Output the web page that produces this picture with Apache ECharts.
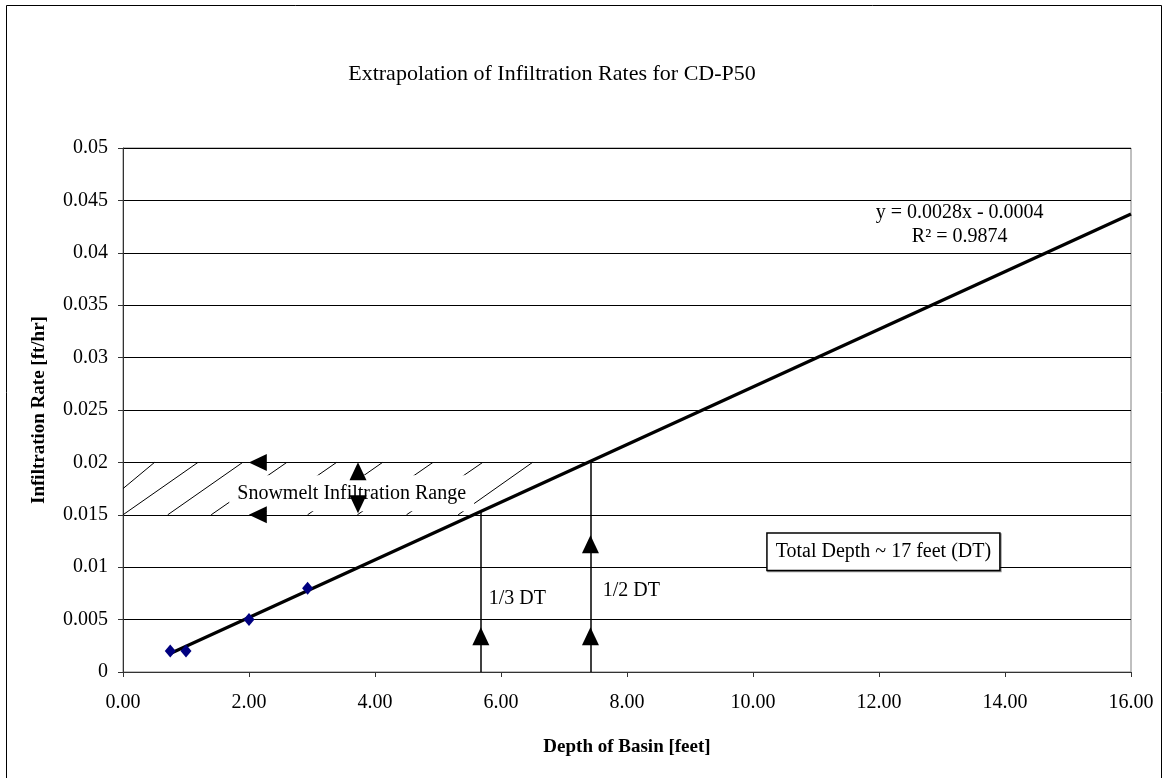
<!DOCTYPE html>
<html>
<head>
<meta charset="utf-8">
<script src="https://cdn.jsdelivr.net/npm/echarts@6/dist/echarts.min.js"></script>
<style>
html,body{margin:0;padding:0;background:#fff;}
#chart{width:1168px;height:778px;}
</style>
</head>
<body>
<div id="chart"></div>
<script>
// ---- data ----
const xTickLabels = ['0.00','2.00','4.00','6.00','8.00','10.00','12.00','14.00','16.00'];
const yTickLabels = ['0','0.005','0.01','0.015','0.02','0.025','0.03','0.035','0.04','0.045','0.05'];

const depthFeet = [0.75, 1.0, 2.0, 2.93];
const infiltrationRate = [0.002, 0.002, 0.005, 0.008];

const trendX = [0.75, 16];
const trendY = [0.00176, 0.0437];

const dtLineX = [5.68, 7.42];
const dtLineTop = [0.0154, 0.02];

const hatchStartX = [0, 0, 0.71, 1.40, 2.19, 2.93, 3.72, 4.50, 5.32];
const hatchStartY = [0.0175, 0.015, 0.015, 0.015, 0.015, 0.015, 0.015, 0.015, 0.015];
const hatchEndX = [0.50, 1.19, 1.90, 2.60, 3.39, 4.12, 4.92, 5.71, 6.50];
const hatchEndY = [0.02, 0.02, 0.02, 0.02, 0.02, 0.02, 0.02, 0.02, 0.02];

const arrowX = [2.14, 2.14, 3.73, 3.73, 5.68, 7.42, 7.42];
const arrowY = [0.02, 0.015, 0.01915, 0.0160, 0.0034, 0.0034, 0.0122];
const arrowRotate = [90, 90, 0, 180, 0, 0, 0];

const noteText = ['y = 0.0028x - 0.0004', 'R\u00b2 = 0.9874', '1/3 DT', '1/2 DT'];
const noteX = [13.28, 13.28, 6.26, 8.07];
const noteY = [0.04386, 0.04157, 0.00703, 0.0078];

const snowText = 'Snowmelt Infiltration Range';
const snowX = 3.63, snowY = 0.01705;
const totalText = 'Total Depth ~ 17 feet (DT)';
const totalX = 12.07, totalY = 0.01147;

const titleText = 'Extrapolation of Infiltration Rates for CD-P50';
const xName = 'Depth of Basin [feet]';
const yName = 'Infiltration Rate [ft/hr]';

// ---- chart ----
const FONT = '"Liberation Serif","Times New Roman",serif';
const chart = echarts.init(document.getElementById('chart'), null, {renderer:'canvas'});

const option = {
  animation: false,
  backgroundColor: '#fff',
  graphic: [
    {type:'rect', silent:true, z:-10, shape:{x:6.5, y:5.5, width:1155, height:800},
     style:{fill:'none', stroke:'#000', lineWidth:1}},
    {type:'text', silent:true, x:552, y:74,
     style:{text:titleText, font:'22px '+FONT, fill:'#000', textAlign:'center', textVerticalAlign:'middle'}}
  ],
  grid: {left:123, right:37, top:148, bottom:106, show:true, borderColor:'#808080', borderWidth:1, backgroundColor:'transparent'},
  xAxis: {
    type:'value', min:0, max:16, interval:2,
    name:xName, nameLocation:'middle', nameGap:66,
    nameTextStyle:{fontFamily:FONT, fontSize:19, fontWeight:'bold', color:'#000'},
    axisLine:{show:true, onZero:false, lineStyle:{color:'#333', width:1}},
    axisTick:{show:true, inside:false, length:5, lineStyle:{color:'#333'}},
    axisLabel:{margin:21, fontFamily:FONT, fontSize:20, color:'#000',
      formatter:(v)=>xTickLabels[Math.round(v/2)]},
    splitLine:{show:false}
  },
  yAxis: {
    type:'value', min:0, max:0.05, interval:0.005,
    name:yName, nameLocation:'middle', nameGap:74, nameRotate:90,
    nameTextStyle:{fontFamily:FONT, fontSize:19, fontWeight:'bold', color:'#000'},
    axisLine:{show:true, onZero:false, lineStyle:{color:'#333', width:1}},
    axisTick:{show:true, inside:false, length:5, lineStyle:{color:'#333'}},
    axisLabel:{margin:15, fontFamily:FONT, fontSize:20, color:'#000',
      formatter:(v)=>yTickLabels[Math.round(v/0.005)]},
    splitLine:{show:true, lineStyle:{color:'#000', width:1}}
  },
  series: [
    {
      name:'hatch', type:'lines', coordinateSystem:'cartesian2d', silent:true, z:2,
      lineStyle:{color:'#000', width:1, curveness:0, opacity:1},
      data: hatchStartX.map((x,i)=>({coords:[[x,hatchStartY[i]],[hatchEndX[i],hatchEndY[i]]]}))
    },
    {
      name:'snow', type:'scatter', silent:true, z:4, symbolSize:0,
      itemStyle:{opacity:1},
      data:[[snowX, snowY]],
      label:{show:true, position:'inside', formatter:snowText, fontFamily:FONT, fontSize:20, color:'#000', opacity:1,
        backgroundColor:'#fff', padding:[7,8], lineHeight:22}
    },
    {
      name:'dt', type:'lines', coordinateSystem:'cartesian2d', silent:true, z:5,
      lineStyle:{color:'#000', width:1.5, curveness:0, opacity:1},
      data: dtLineX.map((x,i)=>({coords:[[x,0],[x,dtLineTop[i]]]}))
    },
    {
      name:'trend', type:'line', silent:true, z:6, symbol:'none',
      lineStyle:{color:'#000', width:3.2},
      data: trendX.map((x,i)=>[x,trendY[i]])
    },
    {
      name:'Infiltration Rate', type:'scatter', z:7, symbol:'diamond', symbolSize:[11,13],
      itemStyle:{color:'#000080', opacity:1},
      data: depthFeet.map((x,i)=>[x,infiltrationRate[i]])
    },
    {
      name:'arrows', type:'scatter', silent:true, z:8, symbol:'triangle', symbolSize:[17,18],
      itemStyle:{color:'#000', opacity:1},
      data: arrowX.map((x,i)=>({value:[x,arrowY[i]], symbolRotate:arrowRotate[i]}))
    },
    {
      name:'notes', type:'scatter', silent:true, z:9, symbolSize:0,
      itemStyle:{opacity:1},
      data: noteX.map((x,i)=>({value:[x,noteY[i]], label:{formatter:noteText[i]}})),
      label:{show:true, position:'inside', fontFamily:FONT, fontSize:20, color:'#000', opacity:1}
    },
    {
      name:'total', type:'scatter', silent:true, z:9, symbolSize:0,
      itemStyle:{opacity:1},
      data:[[totalX, totalY]],
      label:{show:true, position:'inside', formatter:totalText, fontFamily:FONT, fontSize:20, color:'#000', opacity:1,
        backgroundColor:'#fff', borderColor:'#000', borderWidth:1.5, padding:[7,8], lineHeight:22,
        shadowColor:'rgba(0,0,0,0.45)', shadowOffsetX:1, shadowOffsetY:1, shadowBlur:0}
    }
  ]
};
chart.setOption(option);
</script>
</body>
</html>
